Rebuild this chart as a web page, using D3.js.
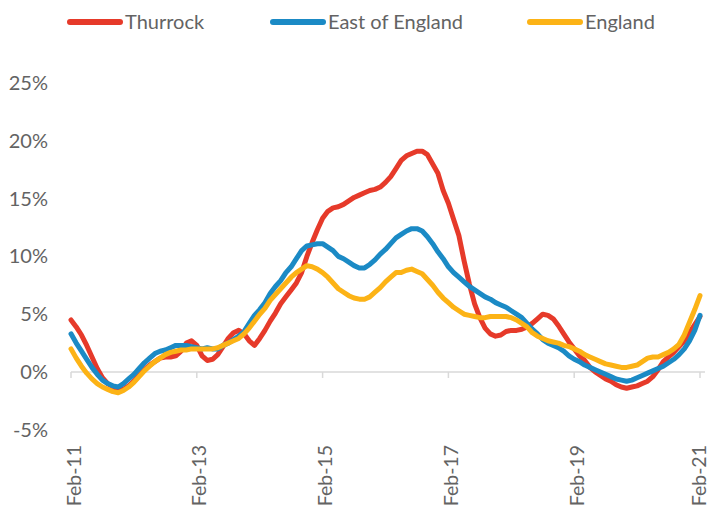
<!DOCTYPE html>
<html>
<head>
<meta charset="utf-8">
<script src="https://cdn.jsdelivr.net/npm/d3@7"></script>
<style>
  body { margin: 0; background: #fff; }
  svg text { font-family: Lato, "Open Sans", sans-serif; fill: #636363; }
</style>
</head>
<body>
<svg id="chart" width="711" height="511"></svg>
<script>
// Annual house price change, monthly Feb-11 .. Feb-21 (121 points)
const seriesNames = ["Thurrock", "East of England", "England"];
const seriesColors = ["#e63a2a", "#1b8ac5", "#fcb316"];

const thurrock = [
  4.5, 3.9, 3.2, 2.3, 1.3, 0.3, -0.5, -1.0, -1.3, -1.5,
  -1.5, -1.2, -0.8, -0.3, 0.2, 0.6, 0.9, 1.2, 1.3, 1.3,
  1.4, 1.8, 2.5, 2.7, 2.3, 1.4, 1.0, 1.1, 1.5, 2.2,
  2.9, 3.4, 3.6, 3.3, 2.7, 2.3, 2.9, 3.6, 4.4, 5.1,
  5.9, 6.5, 7.1, 7.7, 8.6, 10.0, 11.2, 12.3, 13.3, 13.9,
  14.2, 14.3, 14.5, 14.8, 15.1, 15.3, 15.5, 15.7, 15.8, 16.0,
  16.4, 16.9, 17.6, 18.3, 18.7, 18.9, 19.1, 19.1, 18.8, 18.0,
  17.2, 15.7, 14.6, 13.2, 11.8, 9.6, 7.6, 5.9, 4.7, 3.8,
  3.3, 3.1, 3.2, 3.5, 3.6, 3.6, 3.7, 3.9, 4.2, 4.6,
  5.0, 4.9, 4.6, 4.0, 3.3, 2.6, 2.0, 1.4, 1.0, 0.4,
  0.0, -0.3, -0.6, -0.8, -1.1, -1.3, -1.4, -1.3, -1.2, -1.0,
  -0.8, -0.4, 0.2, 0.9, 1.3, 1.7, 2.2, 2.7, 3.4, 4.1,
  4.8
];
const eastOfEngland = [
  3.3, 2.5, 1.8, 1.1, 0.4, -0.2, -0.7, -1.0, -1.2, -1.3,
  -1.0, -0.6, -0.2, 0.3, 0.8, 1.2, 1.6, 1.8, 1.9, 2.1,
  2.3, 2.3, 2.3, 2.2, 2.1, 2.0, 2.1, 2.0, 2.0, 2.3,
  2.5, 2.8, 3.1, 3.5, 4.2, 4.9, 5.4, 6.0, 6.8, 7.4,
  7.9, 8.6, 9.1, 9.8, 10.5, 10.9, 11.0, 11.1, 11.1, 10.8,
  10.5, 10.0, 9.8, 9.5, 9.2, 9.0, 9.0, 9.3, 9.7, 10.2,
  10.6, 11.1, 11.6, 11.9, 12.2, 12.4, 12.4, 12.2, 11.7, 11.1,
  10.4, 9.8, 9.1, 8.6, 8.2, 7.8, 7.4, 7.1, 6.8, 6.5,
  6.3, 6.0, 5.8, 5.6, 5.3, 5.0, 4.7, 4.2, 3.7, 3.3,
  2.8, 2.5, 2.3, 2.1, 1.8, 1.4, 1.1, 0.9, 0.6, 0.4,
  0.2, 0.0, -0.2, -0.4, -0.6, -0.7, -0.8, -0.7, -0.5, -0.3,
  -0.1, 0.1, 0.3, 0.5, 0.8, 1.1, 1.5, 2.0, 2.7, 3.6,
  4.9
];
const england = [
  2.0, 1.2, 0.5, -0.1, -0.6, -1.0, -1.3, -1.5, -1.7, -1.8,
  -1.6, -1.3, -0.9, -0.4, 0.1, 0.5, 0.9, 1.2, 1.5, 1.7,
  1.8, 1.9, 1.9, 2.0, 2.0, 2.0, 2.0, 2.0, 2.1, 2.3,
  2.5, 2.7, 2.9, 3.3, 3.8, 4.4, 5.0, 5.5, 6.2, 6.7,
  7.2, 7.7, 8.2, 8.6, 8.9, 9.2, 9.1, 8.9, 8.6, 8.2,
  7.7, 7.2, 6.9, 6.6, 6.4, 6.3, 6.3, 6.5, 6.9, 7.3,
  7.8, 8.2, 8.6, 8.6, 8.8, 8.9, 8.7, 8.5, 8.0, 7.5,
  6.9, 6.4, 6.0, 5.6, 5.3, 5.0, 4.9, 4.8, 4.7, 4.7,
  4.8, 4.8, 4.8, 4.8, 4.7, 4.5, 4.2, 3.9, 3.4, 3.1,
  2.9, 2.7, 2.6, 2.5, 2.3, 2.2, 2.0, 1.8, 1.5, 1.3,
  1.1, 0.9, 0.7, 0.6, 0.5, 0.4, 0.4, 0.5, 0.6, 0.9,
  1.2, 1.3, 1.3, 1.5, 1.7, 2.0, 2.4, 3.2, 4.3, 5.4,
  6.6
];
const xTickLabels = ["Feb-11", "Feb-13", "Feb-15", "Feb-17", "Feb-19", "Feb-21"];
const yTicks = [-5, 0, 5, 10, 15, 20, 25];

const allSeries = [thurrock, eastOfEngland, england];

const svg = d3.select("#chart");

// scales - index of month on x, percent on y
const x = d3.scaleLinear().domain([0, thurrock.length - 1]).range([71, 700]);
const y = d3.scaleLinear().domain([-5, 25]).range([429.8, 83]);

// y labels only, no axis line
svg.append("g").selectAll("text")
  .data(yTicks)
  .enter().append("text")
    .attr("x", 48)
    .attr("y", d => y(d))
    .attr("dy", "0.35em")
    .attr("text-anchor", "end")
    .style("font-size", "20px")
    .text(d => d + "%");

// x axis at 0%
const xAxis = svg.append("g").attr("transform", "translate(0," + y(0) + ")");
xAxis.append("line")
  .attr("x1", x(0)).attr("x2", x(thurrock.length - 1) + 5)
  .attr("stroke", "#d9d9d9").attr("stroke-width", 1.5);
xAxis.selectAll(".tick")
  .data(xTickLabels)
  .enter().append("line")
    .attr("x1", (d, i) => x(i * 24)).attr("x2", (d, i) => x(i * 24))
    .attr("y1", 0).attr("y2", 6)
    .attr("stroke", "#d9d9d9").attr("stroke-width", 1.5);

// rotated labels; last one kept inside the right edge
svg.append("g").selectAll("text")
  .data(xTickLabels)
  .enter().append("text")
    .attr("transform", (d, i) => "translate(" + Math.min(x(i * 24) + 9.5, 705.5) + ",445) rotate(-90)")
    .attr("text-anchor", "end")
    .style("font-size", "19.5px")
    .text(d => d);

// lines
const line = d3.line()
  .x((d, i) => x(i))
  .y(d => y(d));

svg.append("g").selectAll("path")
  .data(allSeries)
  .enter().append("path")
    .attr("d", line)
    .attr("fill", "none")
    .attr("stroke", (d, i) => seriesColors[i])
    .attr("stroke-width", 5)
    .attr("stroke-linejoin", "round")
    .attr("stroke-linecap", "round");

// legend
const legendX = [67, 270, 527];
const legend = svg.append("g").selectAll("g")
  .data(seriesNames)
  .enter().append("g")
    .attr("transform", (d, i) => "translate(" + legendX[i] + ",22)");
legend.append("line")
  .attr("x1", 3).attr("x2", 53)
  .attr("stroke", (d, i) => seriesColors[i])
  .attr("stroke-width", 6)
  .attr("stroke-linecap", "round");
legend.append("text")
  .attr("x", 58)
  .attr("y", 7)
  .style("font-size", "20px")
  .text(d => d);
</script>
</body>
</html>
